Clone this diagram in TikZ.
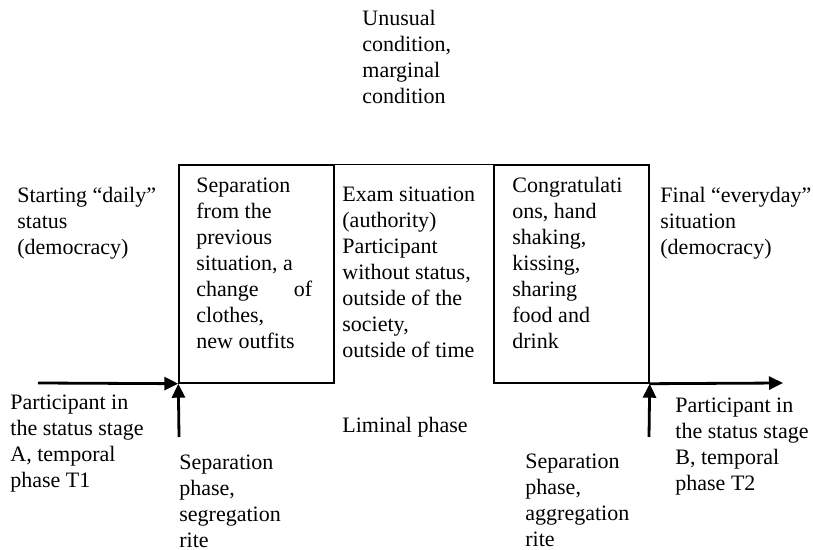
\documentclass[tikz,border=0pt]{standalone}
\usepackage{fontspec}
\setmainfont{Liberation Serif}
\usetikzlibrary{positioning,
	arrows.meta}
\tikzstyle{txt}=[anchor=north west, inner sep=0, align=left,
		font=\fontsize{11}{13}\selectfont]
\tikzstyle{phase}=[draw, line width=0.7pt, minimum width=77.5pt,
		minimum height=109pt, inner sep=0]
\tikzstyle{flow}=[line width=1.4pt, -{Triangle[length=7pt,width=6.5pt]}]

\begin{document}
\begin{tikzpicture}[x=0.5pt,y=-0.5pt]
            \useasboundingbox (0,0) rectangle (813,550);
            % the two rite boxes and the liminal top line
            \node[phase] (sep) at (256.5,274) {};
            \node[phase] (agg) at (571.5,274) {};
            \draw[line width=0.7pt] (sep.north east) -- (agg.north west);
            % texts
            \node[txt] (unusual) at (362,10) {Unusual\\condition,\\marginal\\condition};
            \node[txt] (start) at (17,187) {Starting “daily”\\status\\(democracy)};
            \node[txt] (septxt) at (196,178) {Separation\\from the\\previous\\situation, a\\change\hspace{1.6em}of\\clothes,\\new outfits};
            \node[txt] (exam) at (342,187) {Exam situation\\(authority)\\Participant\\without status,\\outside of the\\society,\\outside of time};
            \node[txt] (congr) at (512,177) {Congratulati\\ons, hand\\shaking,\\kissing,\\sharing\\food and\\drink};
            \node[txt] (final) at (660,187) {Final “everyday”\\situation\\(democracy)};
            \node[txt] (partA) at (10,395) {Participant in\\the status stage\\A, temporal\\phase T1};
            \node[txt] (liminal) at (342,417) {Liminal phase};
            \node[txt] (segr) at (179,455) {Separation\\phase,\\segregation\\rite};
            \node[txt] (partB) at (675,398) {Participant in\\the status stage\\B, temporal\\phase T2};
            \node[txt] (aggr) at (525,454) {Separation\\phase,\\aggregation\\rite};
            % arrows
            \coordinate (inA) at (38,383);
            \coordinate (upA) at (179,437);
            \coordinate (upB) at (649,437);
            \coordinate (outB) at (783,383);
            \draw[flow] (inA) -- (sep.south west);
            \draw[flow] (upA) -- (sep.south west);
            \draw[flow] (upB) -- (agg.south east);
            \draw[flow] (agg.south east) -- (outB);
        \end{tikzpicture}
\end{document}
